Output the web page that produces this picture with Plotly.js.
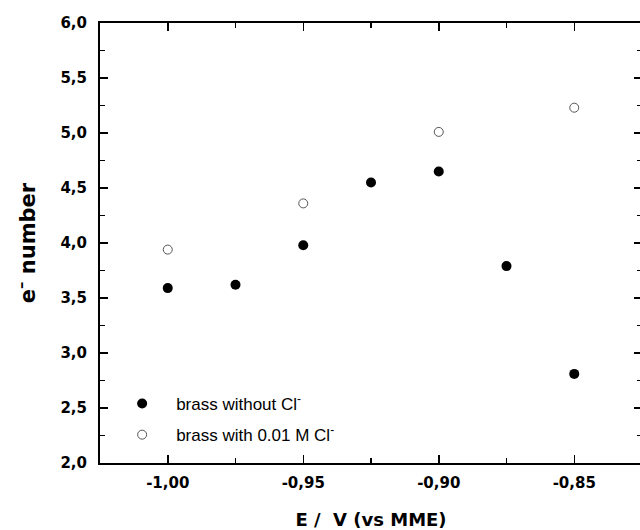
<!DOCTYPE html>
<html>
<head>
<meta charset="utf-8">
<script src="https://cdn.plot.ly/plotly-3.0.1.min.js"></script>
<style>
html, body { margin: 0; padding: 0; overflow: hidden; background: #fff; }
#chart { width: 642px; height: 530px; }
</style>
</head>
<body>
<div id="chart"></div>
<script>
// Data
const potentialWithoutCl = [-1.000, -0.975, -0.950, -0.925, -0.900, -0.875, -0.850];
const electronsWithoutCl = [3.59, 3.62, 3.98, 4.55, 4.65, 3.79, 2.81];

const potentialWithCl = [-1.000, -0.950, -0.900, -0.850];
const electronsWithCl = [3.94, 4.36, 5.01, 5.23];

const seriesNames = ['brass without Cl<sup>-</sup>', 'brass with 0.01 M Cl<sup>-</sup>'];

// Tick positions and labels (hyphen minus, comma decimals as in the reference)
const xTickVals = [-1.00, -0.95, -0.90, -0.85];
const xTickText = ['-1,00', '-0,95', '-0,90', '-0,85'];
const yTickVals = [2.0, 2.5, 3.0, 3.5, 4.0, 4.5, 5.0, 5.5, 6.0];
const yTickText = ['2,0', '2,5', '3,0', '3,5', '4,0', '4,5', '5,0', '5,5', '6,0'];

const tickFont = { family: 'DejaVu Sans', size: 15, color: '#000', weight: 'bold' };

const traces = [
  {
    x: potentialWithoutCl, y: electronsWithoutCl,
    type: 'scatter', mode: 'markers', name: seriesNames[0],
    legendgroup: 'a',
    marker: { symbol: 'circle', size: 10, color: '#000', line: { width: 0 } }
  },
  {
    x: potentialWithCl, y: electronsWithCl,
    type: 'scatter', mode: 'markers', name: seriesNames[1],
    legendgroup: 'b',
    marker: { symbol: 'circle', size: 9, color: '#fff', line: { width: 1, color: '#555' } }
  }
];

const layout = {
  width: 642, height: 530,
  margin: { l: 100, r: 0, t: 23, b: 67 },
  paper_bgcolor: '#fff', plot_bgcolor: '#fff',
  separators: ', ',
  showlegend: true,
  legend: {
    x: 0.015, y: 0.175, xanchor: 'left', yanchor: 'top',
    bgcolor: 'rgba(0,0,0,0)', borderwidth: 0,
    font: { family: 'Liberation Sans, Arial, sans-serif', size: 17, color: '#000' },
    traceorder: 'grouped', tracegroupgap: 6, itemwidth: 58
  },
  xaxis: {
    range: [-1.025, -0.825],
    tickmode: 'array', tickvals: xTickVals, ticktext: xTickText,
    ticks: 'inside', ticklen: 8, tickwidth: 1.5, tickcolor: '#000',
    minor: { tick0: -1.0, dtick: 0.025, ticks: 'inside', ticklen: 5, tickwidth: 1.5, tickcolor: '#000' },
    showline: true, linecolor: '#000', linewidth: 2, mirror: 'ticks',
    showgrid: false, zeroline: false,
    tickfont: tickFont, ticklabelstandoff: 5,
    title: { text: 'E /\u00a0 V (vs MME)', font: { family: 'DejaVu Sans', size: 18, color: '#000', weight: 'bold' }, standoff: 22 }
  },
  yaxis: {
    range: [2, 6],
    tickmode: 'array', tickvals: yTickVals, ticktext: yTickText,
    ticks: 'inside', ticklen: 8, tickwidth: 1.5, tickcolor: '#000',
    minor: { tick0: 2, dtick: 0.25, ticks: 'inside', ticklen: 5, tickwidth: 1.5, tickcolor: '#000' },
    showline: true, linecolor: '#000', linewidth: 2, mirror: 'ticks',
    showgrid: false, zeroline: false,
    tickfont: tickFont, ticklabelstandoff: 8,
    title: { text: 'e<sup>–</sup> number', font: { family: 'DejaVu Sans', size: 21, color: '#000', weight: 'bold' }, standoff: 19 }
  }
};

Plotly.newPlot('chart', traces, layout, { displayModeBar: false, staticPlot: true });
</script>
</body>
</html>
